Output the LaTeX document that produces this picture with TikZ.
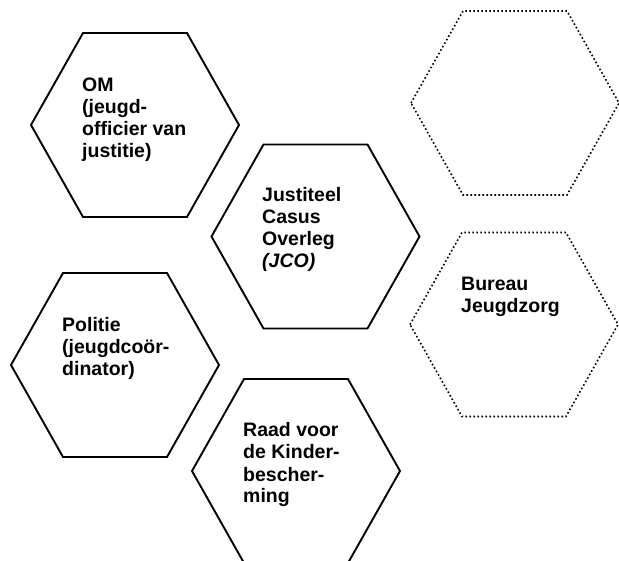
\documentclass[tikz,border=0pt]{standalone}
\usepackage{fontspec}
\setmainfont{Liberation Sans}
\tikzset{
  hexsolid/.style={draw=black, line width=1.9pt, line join=miter},
  hexdotted/.style={draw=black, line width=1.6pt, dash pattern=on 1.6pt off 2.4pt},
  hextext/.style={anchor=base west, inner sep=0pt, font=\bfseries\fontsize{19.5}{22}\selectfont},
  hexpath/.style={insert path={(-104,0) -- (-52,-92) -- (52,-92) -- (104,0) -- (52,92) -- (-52,92) -- cycle}}
}
\newcommand\hexlines[1]{\vtop{\baselineskip=22pt #1}}
\begin{document}
\begin{tikzpicture}[x=1pt,y=-1pt]
  \useasboundingbox (0,0) rectangle (619,561);
  \clip (0,0) rectangle (619,561);
  % hexagon centres
  \coordinate (om) at (135,125);
  \coordinate (jco) at (315.5,236.5);
  \coordinate (empty) at (515,103);
  \coordinate (bureau) at (514,324.5);
  \coordinate (politie) at (115,365);
  \coordinate (raad) at (296,471);
  % hexagons
  \draw[hexsolid, shift={(om)}] [hexpath];
  \draw[hexsolid, shift={(jco)}] [hexpath];
  \draw[hexdotted, shift={(empty)}] [hexpath];
  \draw[hexdotted, shift={(bureau)}] [hexpath];
  \draw[hexsolid, shift={(politie)}] [hexpath];
  \draw[hexsolid, shift={(raad)}] [hexpath];
  % texts
  \node[hextext] (omtext) at (82,92) {\hexlines{\hbox{OM}\hbox{(jeugd-}\hbox{officier van}\hbox{justitie)}}};
  \node[hextext] (jcotext) at (262,202) {\hexlines{\hbox{Justiteel}\hbox{Casus}\hbox{Overleg}\hbox{\itshape (JCO)}}};
  \node[hextext] (bureautext) at (461,291) {\hexlines{\hbox{Bureau}\hbox{Jeugdzorg}}};
  \node[hextext] (politietext) at (62,332) {\hexlines{\hbox{Politie}\hbox{(jeugdcoör-}\hbox{dinator)}}};
  \node[hextext] (raadtext) at (243,437) {\hexlines{\hbox{Raad voor}\hbox{de Kinder-}\hbox{bescher-}\hbox{ming}}};
\end{tikzpicture}
\end{document}
